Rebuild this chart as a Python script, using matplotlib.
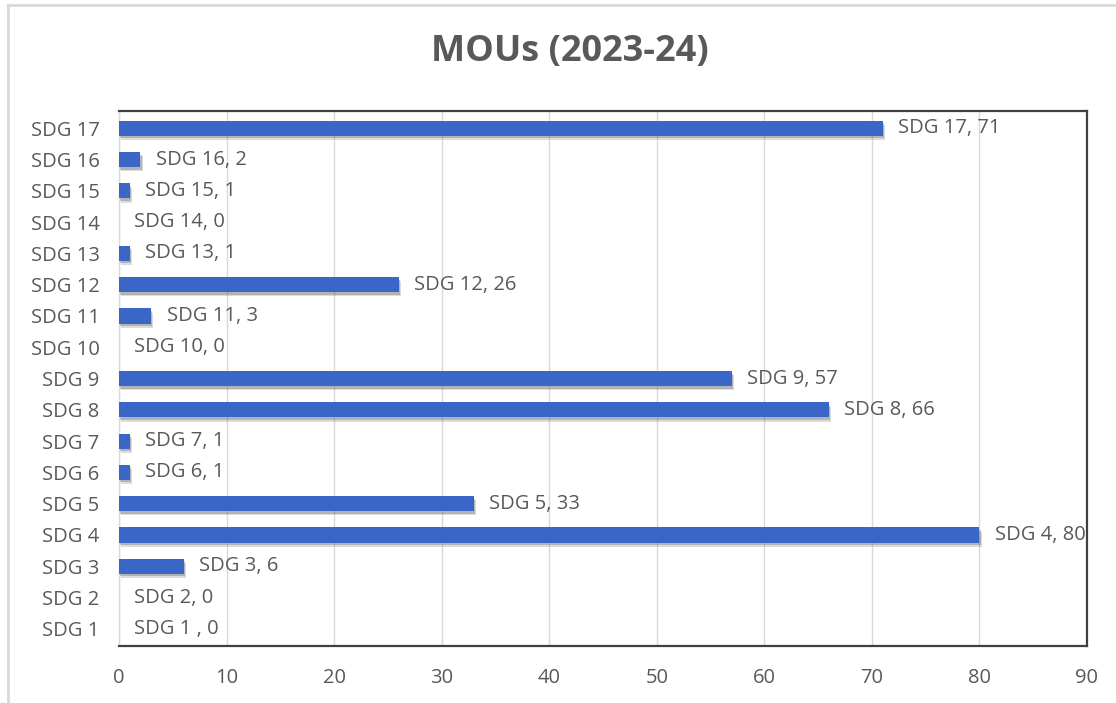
import matplotlib.pyplot as plt
import matplotlib.patheffects as pe
from matplotlib.lines import Line2D

categories = ["SDG 1", "SDG 2", "SDG 3", "SDG 4", "SDG 5", "SDG 6", "SDG 7", "SDG 8",
              "SDG 9", "SDG 10", "SDG 11", "SDG 12", "SDG 13", "SDG 14", "SDG 15",
              "SDG 16", "SDG 17"]
values = [0, 0, 6, 80, 33, 1, 1, 66, 57, 0, 3, 26, 1, 0, 1, 2, 71]
labels = ["SDG 1 , 0", "SDG 2, 0", "SDG 3, 6", "SDG 4, 80", "SDG 5, 33", "SDG 6, 1",
          "SDG 7, 1", "SDG 8, 66", "SDG 9, 57", "SDG 10, 0", "SDG 11, 3", "SDG 12, 26",
          "SDG 13, 1", "SDG 14, 0", "SDG 15, 1", "SDG 16, 2", "SDG 17, 71"]
xticks = list(range(0, 100, 10))

plt.rcParams["font.family"] = ["Open Sans", "DejaVu Sans"]
text_color = "#595959"

fig = plt.figure(figsize=(11.16, 7.03), dpi=100)
ax = fig.add_axes([0.1066, 0.081, 0.8674, 0.761])

y = list(range(len(categories)))
bars = ax.barh(y, values, height=0.48, color="#3a66c8", zorder=3)
for b in bars:
    b.set_path_effects([
        pe.SimplePatchShadow(offset=(1.5, -3.0), shadow_rgbFace="#777777", alpha=0.25),
        pe.SimplePatchShadow(offset=(0.8, -1.8), shadow_rgbFace="#555555", alpha=0.3),
        pe.Normal()])

for yi, v, lab in zip(y, values, labels):
    ax.annotate(lab, (v, yi), xytext=(11, 0), textcoords="offset points",
                va="center", ha="left", fontsize=14.5, color=text_color, zorder=4)

ax.set_xlim(0, 90)
ax.set_ylim(-0.55, len(categories) - 0.45)
ax.set_xticks(xticks)
ax.set_yticks(y)
ax.set_yticklabels(categories)
ax.tick_params(axis="both", length=0, labelsize=14.5, labelcolor=text_color)
ax.tick_params(axis="x", pad=16)
ax.tick_params(axis="y", pad=14)
ax.grid(axis="x", color="#d9d9d9", linewidth=1, zorder=0)

for side in ["top", "right", "bottom"]:
    ax.spines[side].set_color("#404040")
    ax.spines[side].set_linewidth(1.6)
ax.spines["left"].set_color("#d9d9d9")
ax.spines["left"].set_linewidth(1)

fig.text(0.511, 0.926, "MOUs (2023-24)", ha="center", va="center",
         fontsize=26, fontweight="bold", color=text_color)

# outer chart border (top and left visible)
fig.add_artist(Line2D([0.0072, 1.0], [0.993, 0.993], color="#d9d9d9", linewidth=2))
fig.add_artist(Line2D([0.0072, 0.0072], [0.0, 0.993], color="#d9d9d9", linewidth=2))

fig.savefig("out.png", dpi=100)
